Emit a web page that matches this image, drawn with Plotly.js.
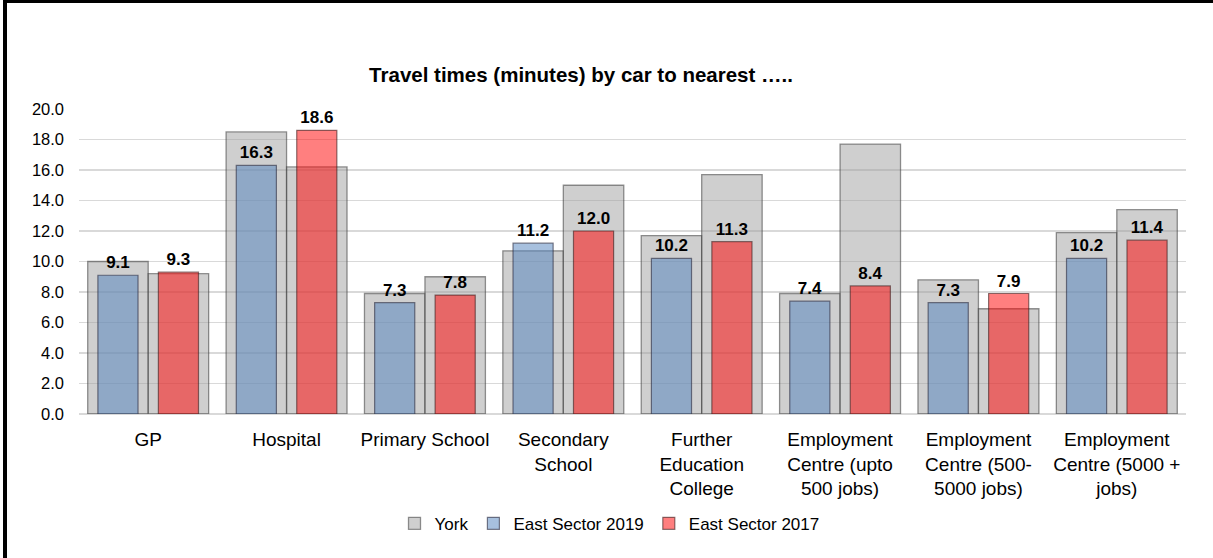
<!DOCTYPE html>
<html>
<head>
<meta charset="utf-8">
<script src="https://cdn.plot.ly/plotly-3.0.1.min.js"></script>
<style>
  html, body { margin: 0; padding: 0; background: #fff; }
  #wrap { position: relative; width: 1213px; height: 558px; }
  #chart { width: 1213px; height: 558px; }
  #frame { position: absolute; left: 3px; top: 0; width: 1210px; height: 558px;
           border-left: 4px solid #000; border-top: 3px solid #000; box-sizing: border-box; pointer-events: none; }
</style>
</head>
<body>
<div id="wrap">
  <div id="chart"></div>
  <div id="frame"></div>
</div>
<script>
const categories = [
  "GP",
  "Hospital",
  "Primary School",
  "Secondary<br>School",
  "Further<br>Education<br>College",
  "Employment<br>Centre (upto<br>500 jobs)",
  "Employment<br>Centre (500-<br>5000 jobs)",
  "Employment<br>Centre (5000 +<br>jobs)"
];
// York comparison behind the 2019 bars and behind the 2017 bars
const york2019 = [10.0, 18.5, 7.9, 10.7, 11.7, 7.9, 8.8, 11.9];
const york2017 = [9.2, 16.2, 9.0, 15.0, 15.7, 17.7, 6.9, 13.4];
const east2019 = [9.1, 16.3, 7.3, 11.2, 10.2, 7.4, 7.3, 10.2];
const east2017 = [9.3, 18.6, 7.8, 12.0, 11.3, 8.4, 7.9, 11.4];
const yTicks = [0, 2, 4, 6, 8, 10, 12, 14, 16, 18, 20];

const FONT = "Liberation Sans, Arial, sans-serif";
const grayFill = "rgba(160,160,160,0.5)";
const grayLine = "rgba(60,60,60,0.55)";
const wGray = 0.437, wCol = 0.29;

const traces = [
  { type: "bar", name: "York", x: categories, y: york2019, legendgroup: "york",
    width: wGray, offset: -wGray,
    marker: { color: grayFill, line: { color: grayLine, width: 1.3 } }, hoverinfo: "y" },
  { type: "bar", name: "York", x: categories, y: york2017, legendgroup: "york", showlegend: false,
    width: wGray, offset: 0,
    marker: { color: grayFill, line: { color: grayLine, width: 1.3 } }, hoverinfo: "y" },
  { type: "bar", name: "East Sector 2019", x: categories, y: east2019,
    width: wCol, offset: -wGray / 2 - wCol / 2,
    marker: { color: "rgba(79,129,189,0.5)", line: { color: "rgba(40,40,60,0.6)", width: 1.2 } },
    text: east2019.map(v => v.toFixed(1)), textposition: "outside", constraintext: "none",
    cliponaxis: false,
    textfont: { family: FONT, size: 17, color: "#000", weight: "bold" } },
  { type: "bar", name: "East Sector 2017", x: categories, y: east2017,
    width: wCol, offset: wGray / 2 - wCol / 2,
    marker: { color: "rgba(255,0,0,0.5)", line: { color: "rgba(60,30,30,0.6)", width: 1.2 } },
    text: east2017.map(v => v.toFixed(1)), textposition: "outside", constraintext: "none",
    cliponaxis: false,
    textfont: { family: FONT, size: 17, color: "#000", weight: "bold" } }
];

const layout = {
  width: 1213, height: 558,
  paper_bgcolor: "#fff", plot_bgcolor: "#fff",
  barmode: "overlay",
  margin: { l: 79, r: 27, t: 109, b: 144, autoexpand: false },
  font: { family: FONT, color: "#000" },
  title: {
    text: "Travel times (minutes) by car to nearest …..",
    font: { family: FONT, size: 20.5, color: "#000", weight: "bold" },
    x: 0.479, xref: "container", xanchor: "center",
    y: 1 - 75 / 558, yref: "container", yanchor: "middle"
  },
  xaxis: {
    type: "category", range: [-0.5, 7.5],
    showgrid: false, showline: false, zeroline: false, ticks: "",
    tickangle: 0, ticklabelstandoff: 12,
    tickfont: { family: FONT, size: 19, color: "#000" },
    automargin: false
  },
  yaxis: {
    range: [0, 20], tickvals: yTicks, tickformat: ".1f",
    showgrid: true, gridcolor: "#D9D9D9", gridwidth: 1.3,
    zeroline: true, zerolinecolor: "#D9D9D9", zerolinewidth: 1.3,
    showline: false, ticks: "", ticklabelstandoff: 14,
    tickfont: { family: FONT, size: 16.5, color: "#000" },
    automargin: false
  },
  legend: {
    orientation: "h", x: 0.285, xref: "paper", xanchor: "left",
    y: -0.36, yanchor: "middle",
    font: { family: FONT, size: 17, color: "#000" },
    traceorder: "normal", itemwidth: 30, bgcolor: "rgba(0,0,0,0)"
  },
  showlegend: true
};

Plotly.newPlot("chart", traces, layout, { displayModeBar: false, staticPlot: true });
</script>
</body>
</html>
